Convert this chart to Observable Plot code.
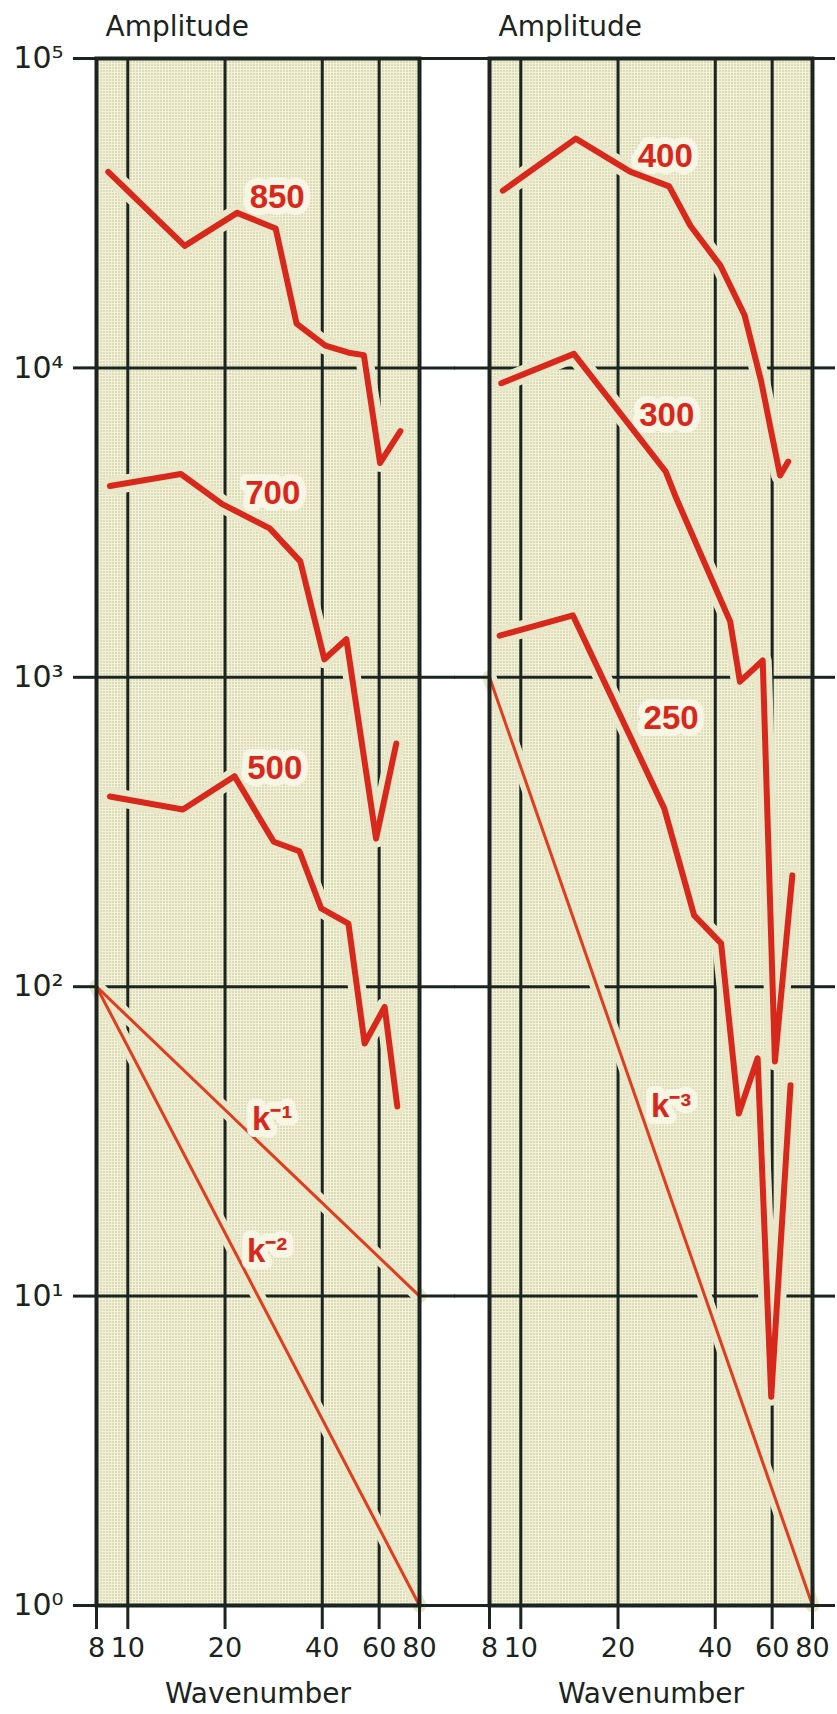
<!DOCTYPE html>
<html><head><meta charset="utf-8">
<script src="https://cdn.jsdelivr.net/npm/d3@7"></script>
<script src="https://cdn.jsdelivr.net/npm/@observablehq/plot@0.6"></script>
<style>
html,body{margin:0;padding:0;background:#fff;}
#wrap{position:relative;width:837px;height:1714px;overflow:hidden;}
</style></head><body>
<svg width="0" height="0" style="position:absolute">
<defs>
<pattern id="stipple" patternUnits="userSpaceOnUse" width="3" height="3">
<rect width="3" height="3" fill="#f3f1d3"/>
<rect x="1" y="1" width="1" height="1" fill="#9a987f"/>
</pattern>
</defs></svg>
<div id="wrap"></div>
<script>
// ---- data ----
const xTicks = [8, 10, 20, 40, 60, 80];
const xTickLabels = ["8", "10", "20", "40", "60", "80"];
const xGrid = [10, 20, 40, 60];
const yTicks = [1, 10, 100, 1000, 10000, 100000];
const yTickLabels = ["10⁰", "10¹", "10²", "10³", "10⁴", "10⁵"];
const yGrid = [10, 100, 1000, 10000];

// left panel: 850, 700, 500 hPa
const k850 = [8.7, 15.0, 21.8, 28.7, 33.3, 40.9, 48.3, 53.8, 60.4, 69.8];
const a850 = [43000, 24800, 31700, 28200, 13900, 11800, 11200, 11000, 4930, 6250];
const k700 = [8.8, 14.6, 19.6, 27.5, 34.2, 40.6, 47.5, 58.7, 67.8];
const a700 = [4150, 4540, 3630, 3030, 2370, 1143, 1327, 301, 611];
const k500 = [8.8, 14.8, 21.4, 28.3, 34.0, 39.7, 48.2, 54.1, 62.4, 68.3];
const a500 = [412, 374, 479, 294, 274, 179, 160, 65.5, 86, 41];
// reference slopes
const kRef = [8, 80];
const aKm1 = [100, 10];
const aKm2 = [100, 1];
const aKm3 = [1000, 1];

// right panel: 400, 300, 250 hPa
const k400 = [8.8, 14.8, 21.8, 28.8, 33.5, 41.5, 49.3, 55.5, 59.6, 63.5, 67.3];
const a400 = [37400, 55100, 43100, 38600, 28800, 21400, 14800, 9040, 6220, 4490, 4980];
const k300 = [8.7, 14.6, 28.1, 30.3, 44.5, 47.7, 56.1, 61.2, 69.3];
const a300 = [8920, 11100, 4620, 3790, 1513, 968, 1133, 57.3, 229];
const k250 = [8.6, 14.5, 27.8, 34.4, 41.7, 47.3, 54.1, 59.6, 68.4];
const a250 = [1364, 1585, 377, 170, 138, 38.9, 58.7, 4.73, 48.0];

// curve labels
const leftLabelText = ["850", "700", "500", "k⁻¹", "k⁻²"];
const leftLabelK = [29.0, 28.1, 28.5, 28.0, 27.0];
const leftLabelA = [35500, 3940, 508, 37.2, 13.9];
const rightLabelText = ["400", "300", "250", "k⁻³"];
const rightLabelK = [28.0, 28.3, 29.2, 29.2];
const rightLabelA = [48200, 7010, 736, 41.0];

const titleText = "Amplitude";
const xTitleText = "Wavenumber";

// ---- styles ----
const INK = "#1b2420";
const RED = "#d8281c";
const RED2 = "#de3d1e";
const SCREEN = "#e9e7ca"; // mean tone of the stippled paper

const rows = (ks, as) => ks.map((k, i) => ({k, a: as[i]}));

function panel({left, width, marginLeft, marginRight, series, refs, labels, yLabels, rightTick}) {
  const marks = [
    Plot.frame({fill: "url(#stipple)"}),
    Plot.ruleX(xGrid, {x: d => d, stroke: INK, strokeWidth: 3}),
    Plot.ruleY(yGrid, {y: d => d, stroke: INK, strokeWidth: 3}),
  ];
  // paper-toned halos open gaps in the grid lines around the curves
  for (const r of refs) marks.push(Plot.line(r, {x: "k", y: "a", stroke: SCREEN, strokeWidth: 14, className: "halo"}));
  for (const s of series) marks.push(Plot.line(s, {x: "k", y: "a", stroke: SCREEN, strokeWidth: 18, strokeLinejoin: "round", className: "halo"}));
  for (const r of refs) marks.push(Plot.line(r, {x: "k", y: "a", stroke: RED2, strokeWidth: 3}));
  for (const s of series) marks.push(Plot.line(s, {x: "k", y: "a", stroke: RED, strokeWidth: 6, strokeLinejoin: "round", strokeLinecap: "round"}));
  marks.push(
    Plot.text(labels, {x: "k", y: "a", text: "t", fill: RED, stroke: "#f7f5e4", strokeWidth: 14,
      strokeLinejoin: "round", fontFamily: "Liberation Sans", fontWeight: "bold", fontSize: 33}),
    Plot.frame({stroke: INK, strokeWidth: 4}),
    Plot.axisX({ticks: xTicks, tickSize: 24, tickPadding: 8, strokeWidth: 3, label: null,
      tickFormat: d => xTickLabels[xTicks.indexOf(d)], fontSize: 27}),
    Plot.axisY({anchor: "left", ticks: yTicks, tickSize: yLabels ? 23 : 35, tickPadding: 10, strokeWidth: 3, label: null,
      tickFormat: d => yLabels ? yTickLabels[yTicks.indexOf(d)] : "", fontSize: 30}),
    Plot.axisY({anchor: "right", ticks: yTicks, tickSize: rightTick, strokeWidth: 3, label: null, tickFormat: () => ""}),
    Plot.text([titleText], {text: d => d, frameAnchor: "top-left", textAnchor: "start", lineAnchor: "bottom",
      dx: 9, dy: -23, fontSize: 28, fill: INK}),
    Plot.text([xTitleText], {text: d => d, frameAnchor: "bottom", lineAnchor: "bottom",
      dy: 97, fontSize: 28, fill: INK})
  );
  const svg = Plot.plot({
    width, height: 1714, marginTop: 58, marginBottom: 109, marginLeft, marginRight,
    x: {type: "log", domain: [8, 80], label: null},
    y: {type: "log", domain: [1, 100000], label: null},
    style: {fontFamily: "DejaVu Sans", fontSize: "27px", color: INK, background: "transparent", overflow: "visible"},
    marks
  });
  svg.style.position = "absolute";
  svg.style.left = left + "px";
  svg.style.top = "0px";
  document.getElementById("wrap").appendChild(svg);
}

panel({
  left: 0, width: 454, marginLeft: 96, marginRight: 35,
  series: [rows(k850, a850), rows(k700, a700), rows(k500, a500)],
  refs: [rows(kRef, aKm1), rows(kRef, aKm2)],
  labels: leftLabelText.map((t, i) => ({t, k: leftLabelK[i], a: leftLabelA[i]})),
  yLabels: true, rightTick: 35
});
panel({
  left: 454, width: 383, marginLeft: 35, marginRight: 25,
  series: [rows(k400, a400), rows(k300, a300), rows(k250, a250)],
  refs: [rows(kRef, aKm3)],
  labels: rightLabelText.map((t, i) => ({t, k: rightLabelK[i], a: rightLabelA[i]})),
  yLabels: false, rightTick: 22
});
</script>
</body></html>
